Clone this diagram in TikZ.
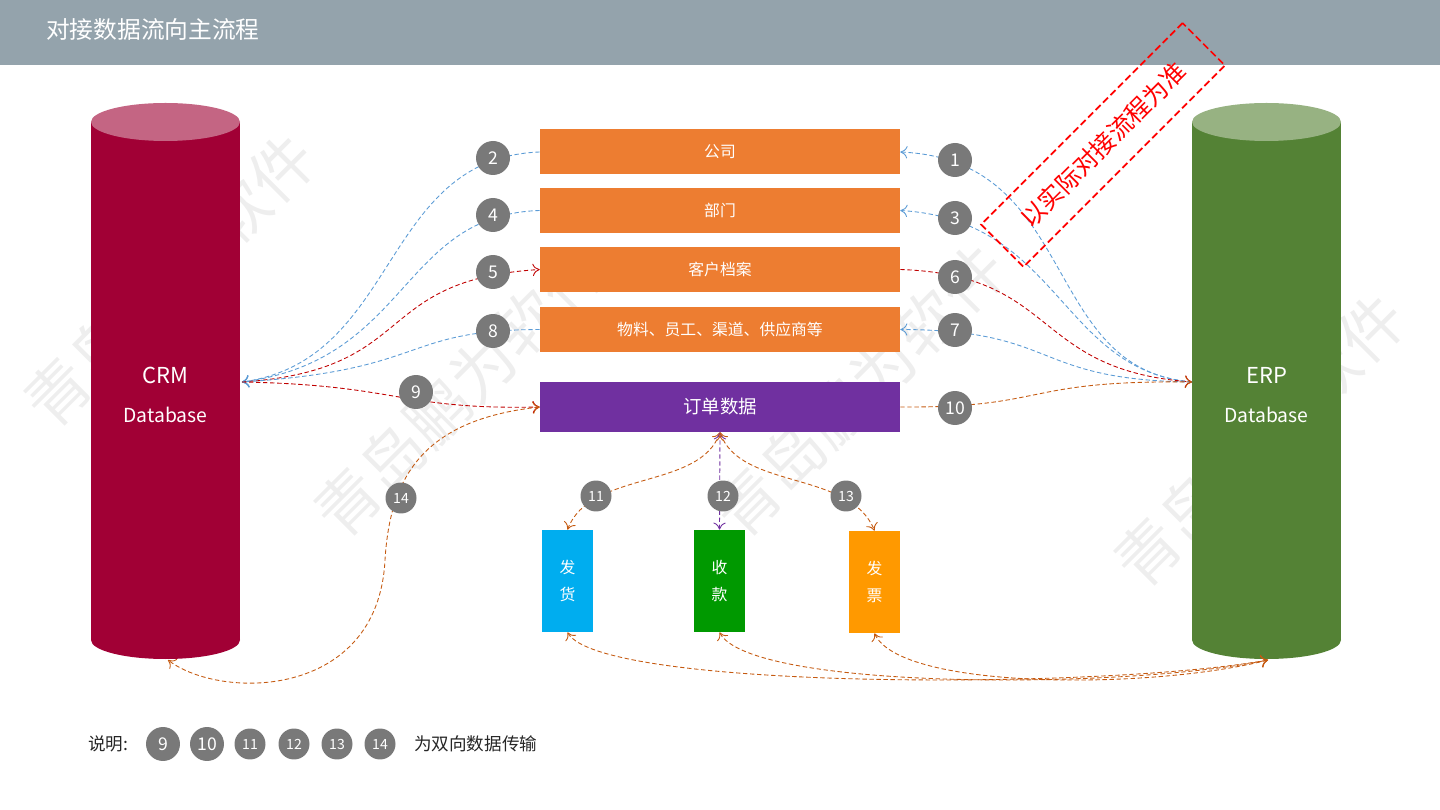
\documentclass[tikz,border=0pt]{standalone}
\usepackage{fontspec}
\setmainfont{Noto Sans CJK SC}
\usetikzlibrary{arrows.meta}
\definecolor{hdr}{HTML}{94A3AC}
\definecolor{org}{HTML}{ED7D31}
\definecolor{pur}{HTML}{7030A0}
\definecolor{crm}{HTML}{A10035}
\definecolor{crmt}{HTML}{C46583}
\definecolor{erp}{HTML}{548235}
\definecolor{erpt}{HTML}{97B282}
\definecolor{lb}{HTML}{5B9BD5}
\definecolor{dr}{HTML}{C00000}
\definecolor{or2}{HTML}{C55A11}
\begin{document}
\begin{tikzpicture}[x=0.02cm,y=-0.02cm,
 box/.style={fill=org,text=white,minimum width=7.2cm,minimum height=0.9cm,inner sep=0,font=\fontsize{9}{10}\selectfont},
 num/.style={circle,fill=gray!95!black,text=white,minimum size=0.68cm,inner sep=0,font=\fontsize{10}{10}\selectfont},
 sm/.style={num,minimum size=0.62cm,font=\fontsize{8}{8}\selectfont},
 con/.style={dashed,dash pattern=on 2.5pt off 1.5pt,line width=0.5pt},
 tip/.style={-{To[length=4pt,width=7pt]}},
 bt/.style={{To[length=4pt,width=7pt]}-{To[length=4pt,width=7pt]}},
 wm/.style={text=gray!13,rotate=45,font=\fontsize{36}{36}\selectfont}]
\useasboundingbox (0,0) rectangle (1440,810);
% watermarks
\node[wm] (w1) at (170,280) {青岛鹏为软件};
\node[wm] (w2) at (460,390) {青岛鹏为软件};
\node[wm] (w3) at (860,390) {青岛鹏为软件};
\node[wm] (w4) at (1260,440) {青岛鹏为软件};
% header
\fill[hdr] (0,0) rectangle (1440,65);
\node[anchor=west,text=white,font=\fontsize{13.5}{14}\selectfont] (title) at (40,30) {对接数据流向主流程};
% cylinders
\fill[crm] (91,122) rectangle (240,640);
\fill[crm] (165.5,640) ellipse (74.5 and 19);
\fill[crmt] (165.5,122) ellipse (74.5 and 19);
\node[text=white,font=\fontsize{12.5}{13}\selectfont] (crm) at (165.5,375) {CRM};
\node[text=white,font=\fontsize{11}{12}\selectfont] (crmd) at (165.5,415) {Database};
\coordinate (ch) at (242,382);
\coordinate (cb) at (168,660);
\fill[erp] (1192,122) rectangle (1341,640);
\fill[erp] (1266.5,640) ellipse (74.5 and 19);
\fill[erpt] (1266.5,122) ellipse (74.5 and 19);
\node[text=white,font=\fontsize{12.5}{13}\selectfont] (erp) at (1266.5,375) {ERP};
\node[text=white,font=\fontsize{11}{12}\selectfont] (erpd) at (1266.5,415) {Database};
\coordinate (eh) at (1192,382);
\coordinate (eb) at (1268,660);
% boxes
\node[box] (b1) at (720,152) {公司};
\node[box] (b2) at (720,210.5) {部门};
\node[box] (b3) at (720,269.5) {客户档案};
\node[box] (b4) at (720,329.5) {物料、员工、渠道、供应商等};
\node[box,fill=pur,minimum height=1cm,font=\fontsize{10.5}{11}\selectfont] (b5) at (720,407) {订单数据};
\node[fill=cyan,text=white,minimum width=1.02cm,minimum height=2.04cm,inner sep=0,align=center,font=\fontsize{9}{15}\selectfont] (s1) at (567.5,581) {发\\货};
\node[fill=green!60!black,text=white,minimum width=1.02cm,minimum height=2.04cm,inner sep=0,align=center,font=\fontsize{9}{15}\selectfont] (s2) at (719.5,581) {收\\款};
\node[fill=orange!80!yellow,text=white,minimum width=1.02cm,minimum height=2.04cm,inner sep=0,align=center,font=\fontsize{9}{15}\selectfont] (s3) at (874.5,582) {发\\票};
% connectors CRM side
\draw[con,lb,tip] (b1.west) .. controls (380,158) and (400,360) .. (ch);
\draw[con,lb,tip] (b2.west) .. controls (400,215) and (410,360) .. (ch);
\draw[con,dr,tip] (ch) .. controls (420,370) and (370,280) .. (b3.west);
\draw[con,lb,tip] (b4.west) .. controls (400,330) and (430,370) .. (ch);
\draw[con,dr,tip] (ch) .. controls (400,385) and (400,410) .. (b5.west);
\draw[con,or2,bt] (b5.west) .. controls (420,420) and (390,480) .. (385,560) .. controls (378,700) and (220,700) .. (cb);
% ERP side
\draw[con,lb,tip] (eh) .. controls (1040,370) and (1080,160) .. (b1.east);
\draw[con,lb,tip] (eh) .. controls (1060,370) and (1060,220) .. (b2.east);
\draw[con,dr,tip] (b3.east) .. controls (1060,275) and (1030,370) .. (eh);
\draw[con,lb,tip] (eh) .. controls (1030,380) and (1060,330) .. (b4.east);
\draw[con,or2,tip] (b5.east) .. controls (1050,408) and (1020,380) .. (eh);
% order sub
\draw[con,or2,bt] (b5.south) .. controls (700,490) and (590,470) .. (s1.north);
\draw[con,pur,bt] (b5.south) -- (s2.north);
\draw[con,or2,bt] (b5.south) .. controls (740,490) and (850,470) .. (s3.north);
\draw[con,or2,bt] (s1.south) .. controls (600,690) and (1100,690) .. (eb);
\draw[con,or2,bt] (s2.south) .. controls (750,690) and (1120,690) .. (eb);
\draw[con,or2,bt] (s3.south) .. controls (900,690) and (1150,690) .. (eb);
% numbers
\node[num] (n1) at (955,160) {1};
\node[num] (n2) at (493,158) {2};
\node[num] (n3) at (955,218) {3};
\node[num] (n4) at (493,215) {4};
\node[num] (n5) at (493,272) {5};
\node[num] (n6) at (955,277) {6};
\node[num] (n7) at (955,330) {7};
\node[num] (n8) at (493,331) {8};
\node[num] (n9) at (416,392) {9};
\node[num] (n10) at (955,408) {10};
\node[sm] (n11) at (596,496) {11};
\node[sm] (n12) at (723,496) {12};
\node[sm] (n13) at (846,496) {13};
\node[sm] (n14) at (401,498) {14};
% red stamp
\node[draw=red,dashed,line width=1pt,dash pattern=on 4pt off 2pt,rotate=45,text=red,minimum width=5.7cm,minimum height=1.2cm,font=\fontsize{14}{14}\selectfont] (stamp) at (1103,145) {以实际对接流程为准};
% legend
\node[anchor=west,text=gray!30!black,font=\fontsize{10}{10}\selectfont] (lg) at (82,744) {说明:};
\node[num] (l9) at (163,744) {9};
\node[num] (l10) at (207,744) {10};
\node[sm] (l11) at (250,744) {11};
\node[sm] (l12) at (294,744) {12};
\node[sm] (l13) at (337,744) {13};
\node[sm] (l14) at (380,744) {14};
\node[anchor=west,text=gray!30!black,font=\fontsize{10}{10}\selectfont] (lt) at (408,744) {为双向数据传输};
\end{tikzpicture}
\end{document}
